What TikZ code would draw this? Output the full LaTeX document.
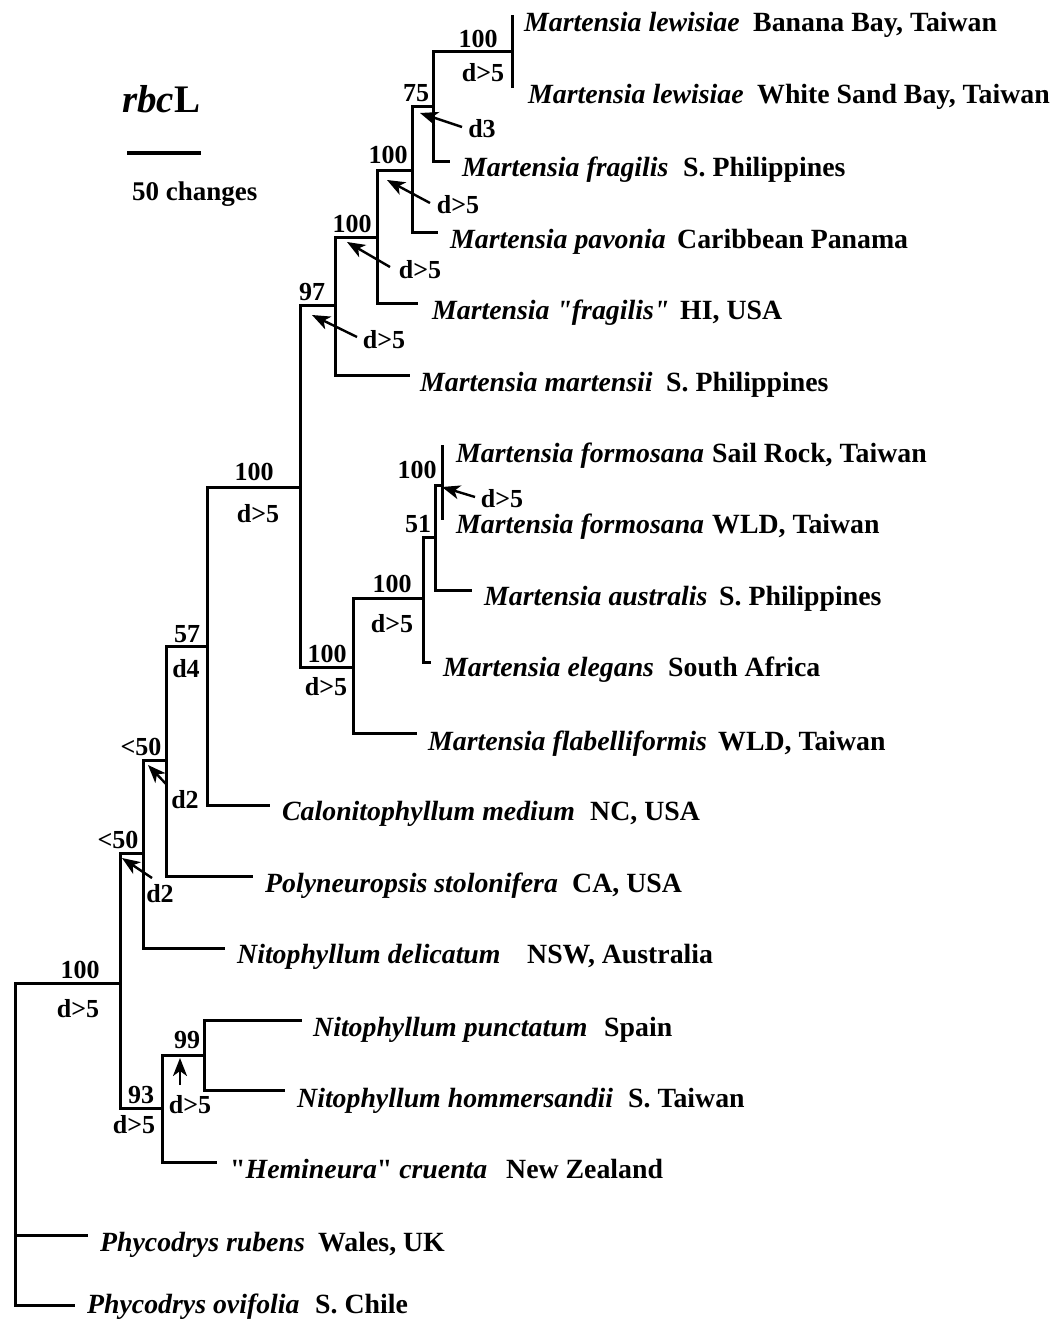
\documentclass[tikz,border=0pt]{standalone}
\usepackage{fontspec}
\setmainfont{Liberation Serif}[Ligatures=TeXOff]
\usetikzlibrary{arrows.meta}
\begin{document}
\begin{tikzpicture}[x=1pt,y=-1pt,
  br/.style={line width=3pt, line join=miter},
  arr/.style={line width=2.4pt, -{Stealth[length=18pt,width=14pt,inset=5pt]}},
  sp/.style={font=\fontsize{27.8}{30}\selectfont\bfseries\itshape, anchor=base west, inner sep=0pt},
  loc/.style={font=\fontsize{27.8}{30}\selectfont\bfseries, anchor=base west, inner sep=0pt},
  lab/.style={font=\fontsize{26}{28}\selectfont\bfseries, anchor=base, inner sep=0pt}]
\useasboundingbox (0,0) rectangle (1059,1319);
% tips
\coordinate (tLewA) at (512,15);
\coordinate (tLewB) at (512,88);
\coordinate (tFrag) at (450,161);
\coordinate (tPav) at (438,232);
\coordinate (tFragHI) at (418,303);
\coordinate (tMart) at (410,375);
\coordinate (tFormA) at (442,445);
\coordinate (tFormB) at (442,520);
\coordinate (tAus) at (472,590);
\coordinate (tEleg) at (431,662);
\coordinate (tFlab) at (417,733);
\coordinate (tCalo) at (270,805);
\coordinate (tPoly) at (253,876);
\coordinate (tDeli) at (225,948);
\coordinate (tPunc) at (302,1020);
\coordinate (tHomm) at (285,1090);
\coordinate (tHemi) at (217,1162);
\coordinate (tRub) at (88,1235);
\coordinate (tOvi) at (75,1305);
% internal nodes
\coordinate (nLew) at (512,52);
\coordinate (n75) at (433,107);
\coordinate (nA) at (412,170);
\coordinate (nB) at (377,237);
\coordinate (n97) at (335,305);
\coordinate (nM) at (300,487);
\coordinate (nF) at (353,667);
\coordinate (nE) at (423,598);
\coordinate (n51) at (435,537);
\coordinate (nForm) at (442,485);
\coordinate (n57) at (207,646);
\coordinate (nL1) at (166,760);
\coordinate (nL2) at (143,853);
\coordinate (nR) at (120,983);
\coordinate (n93) at (162,1108);
\coordinate (n99) at (204,1055);
\coordinate (nRoot) at (15,1235);
% branches
\draw[br] (nLew) -- (tLewA);
\draw[br] (nLew) -- (tLewB);
\draw[br] (n75) |- (nLew);
\draw[br] (n75) |- (tFrag);
\draw[br] (nA) |- (n75);
\draw[br] (nA) |- (tPav);
\draw[br] (nB) |- (nA);
\draw[br] (nB) |- (tFragHI);
\draw[br] (n97) |- (nB);
\draw[br] (n97) |- (tMart);
\draw[br] (nM) |- (n97);
\draw[br] (nM) |- (nF);
\draw[br] (nF) |- (nE);
\draw[br] (nF) |- (tFlab);
\draw[br] (nE) |- (n51);
\draw[br] (nE) |- (tEleg);
\draw[br] (n51) |- (nForm);
\draw[br] (n51) |- (tAus);
\draw[br] (nForm) -- (tFormA);
\draw[br] (nForm) -- (tFormB);
\draw[br] (n57) |- (nM);
\draw[br] (n57) |- (tCalo);
\draw[br] (nL1) |- (n57);
\draw[br] (nL1) |- (tPoly);
\draw[br] (nL2) |- (nL1);
\draw[br] (nL2) |- (tDeli);
\draw[br] (nR) |- (nL2);
\draw[br] (nR) |- (n93);
\draw[br] (n93) |- (n99);
\draw[br] (n93) |- (tHemi);
\draw[br] (n99) |- (tPunc);
\draw[br] (n99) |- (tHomm);
\draw[br] (nRoot) |- (nR);
\draw[br] (nRoot) -- (tRub);
\draw[br] (nRoot) |- (tOvi);
% leaf labels
\node[sp] (sLewA) at (524,32) {Martensia lewisiae};
\node[loc] (lLewA) at (753,32) {Banana Bay, Taiwan};
\node[sp] (sLewB) at (528,104) {Martensia lewisiae};
\node[loc] (lLewB) at (757,104) {White Sand Bay, Taiwan};
\node[sp] (sFrag) at (462,176) {Martensia fragilis};
\node[loc] (lFrag) at (683,176) {S. Philippines};
\node[sp] (sPav) at (450,248) {Martensia pavonia};
\node[loc] (lPav) at (677,248) {Caribbean Panama};
\node[sp] (sFragHI) at (432,319) {Martensia "fragilis"};
\node[loc] (lFragHI) at (680,319) {HI, USA};
\node[sp] (sMart) at (420,391) {Martensia martensii};
\node[loc] (lMart) at (666,391) {S. Philippines};
\node[sp] (sFormA) at (456,462) {Martensia formosana};
\node[loc] (lFormA) at (712,462) {Sail Rock, Taiwan};
\node[sp] (sFormB) at (456,533) {Martensia formosana};
\node[loc] (lFormB) at (712,533) {WLD, Taiwan};
\node[sp] (sAus) at (484,605) {Martensia australis};
\node[loc] (lAus) at (719,605) {S. Philippines};
\node[sp] (sEleg) at (443,676) {Martensia elegans};
\node[loc] (lEleg) at (668,676) {South Africa};
\node[sp] (sFlab) at (428,750) {Martensia flabelliformis};
\node[loc] (lFlab) at (718,750) {WLD, Taiwan};
\node[sp] (sCalo) at (282,820) {Calonitophyllum medium};
\node[loc] (lCalo) at (590,820) {NC, USA};
\node[sp] (sPoly) at (265,892) {Polyneuropsis stolonifera};
\node[loc] (lPoly) at (572,892) {CA, USA};
\node[sp] (sDeli) at (237,963) {Nitophyllum delicatum};
\node[loc] (lDeli) at (527,963) {NSW, Australia};
\node[sp] (sPunc) at (313,1036) {Nitophyllum punctatum};
\node[loc] (lPunc) at (604,1036) {Spain};
\node[sp] (sHomm) at (297,1107) {Nitophyllum hommersandii};
\node[loc] (lHomm) at (628,1107) {S. Taiwan};
\node[sp] (sHemi) at (230,1178) {\textup{"}Hemineura\textup{"} cruenta};
\node[loc] (lHemi) at (506,1178) {New Zealand};
\node[sp] (sRub) at (100,1251) {Phycodrys rubens};
\node[loc] (lRub) at (318,1251) {Wales, UK};
\node[sp] (sOvi) at (87,1313) {Phycodrys ovifolia};
\node[loc] (lOvi) at (315,1313) {S. Chile};
% support labels
\node[lab] (b1) at (478,48) {100};
\node[lab] (d1) at (483,82) {d>5};
\node[lab] (b2) at (416,102) {75};
\node[lab] (d2) at (482,138) {d3};
\node[lab] (b3) at (388,163) {100};
\node[lab] (d3) at (458,213) {d>5};
\node[lab] (b4) at (352,232) {100};
\node[lab] (d4) at (420,278) {d>5};
\node[lab] (b5) at (312,300) {97};
\node[lab] (d5) at (384,348) {d>5};
\node[lab] (b6) at (254,480) {100};
\node[lab] (d6) at (258,522) {d>5};
\node[lab] (b7) at (417,478) {100};
\node[lab] (d7) at (502,507) {d>5};
\node[lab] (b8) at (418,532) {51};
\node[lab] (b9) at (392,592) {100};
\node[lab] (d9) at (392,632) {d>5};
\node[lab] (b10) at (327,662) {100};
\node[lab] (d10) at (326,695) {d>5};
\node[lab] (b11) at (187,642) {57};
\node[lab] (d11) at (186,677) {d4};
\node[lab] (b12) at (141,755) {<50};
\node[lab] (d12) at (185,808) {d2};
\node[lab] (b13) at (118,848) {<50};
\node[lab] (d13) at (160,902) {d2};
\node[lab] (b14) at (80,978) {100};
\node[lab] (d14) at (78,1017) {d>5};
\node[lab] (b15) at (187,1048) {99};
\node[lab] (d15) at (190,1113) {d>5};
\node[lab] (b16) at (141,1103) {93};
\node[lab] (d16) at (134,1133) {d>5};
% arrows
\coordinate (a2s) at (462,127); \coordinate (a2e) at (420,113);
\coordinate (a3s) at (430,203); \coordinate (a3e) at (387,180);
\coordinate (a4s) at (390,267); \coordinate (a4e) at (347,242);
\coordinate (a5s) at (357,337); \coordinate (a5e) at (312,315);
\coordinate (a7s) at (475,497); \coordinate (a7e) at (442,487);
\coordinate (a12s) at (167,785); \coordinate (a12e) at (148,765);
\coordinate (a13s) at (152,878); \coordinate (a13e) at (122,858);
\coordinate (a15s) at (180,1085); \coordinate (a15e) at (180,1058);
\draw[arr] (a2s) -- (a2e);
\draw[arr] (a3s) -- (a3e);
\draw[arr] (a4s) -- (a4e);
\draw[arr] (a5s) -- (a5e);
\draw[arr] (a7s) -- (a7e);
\draw[arr] (a12s) -- (a12e);
\draw[arr] (a13s) -- (a13e);
\draw[arr] (a15s) -- (a15e);
% legend
\node[anchor=base west, inner sep=0pt, font=\fontsize{39}{42}\selectfont\bfseries] (title) at (122,113) {\textit{rbc}L};
\coordinate (sbA) at (127,153); \coordinate (sbB) at (201,153);
\draw[line width=4pt] (sbA) -- (sbB);
\node[anchor=base west, inner sep=0pt, font=\fontsize{27}{30}\selectfont\bfseries] (scl) at (132,200) {50 changes};
\end{tikzpicture}
\end{document}
